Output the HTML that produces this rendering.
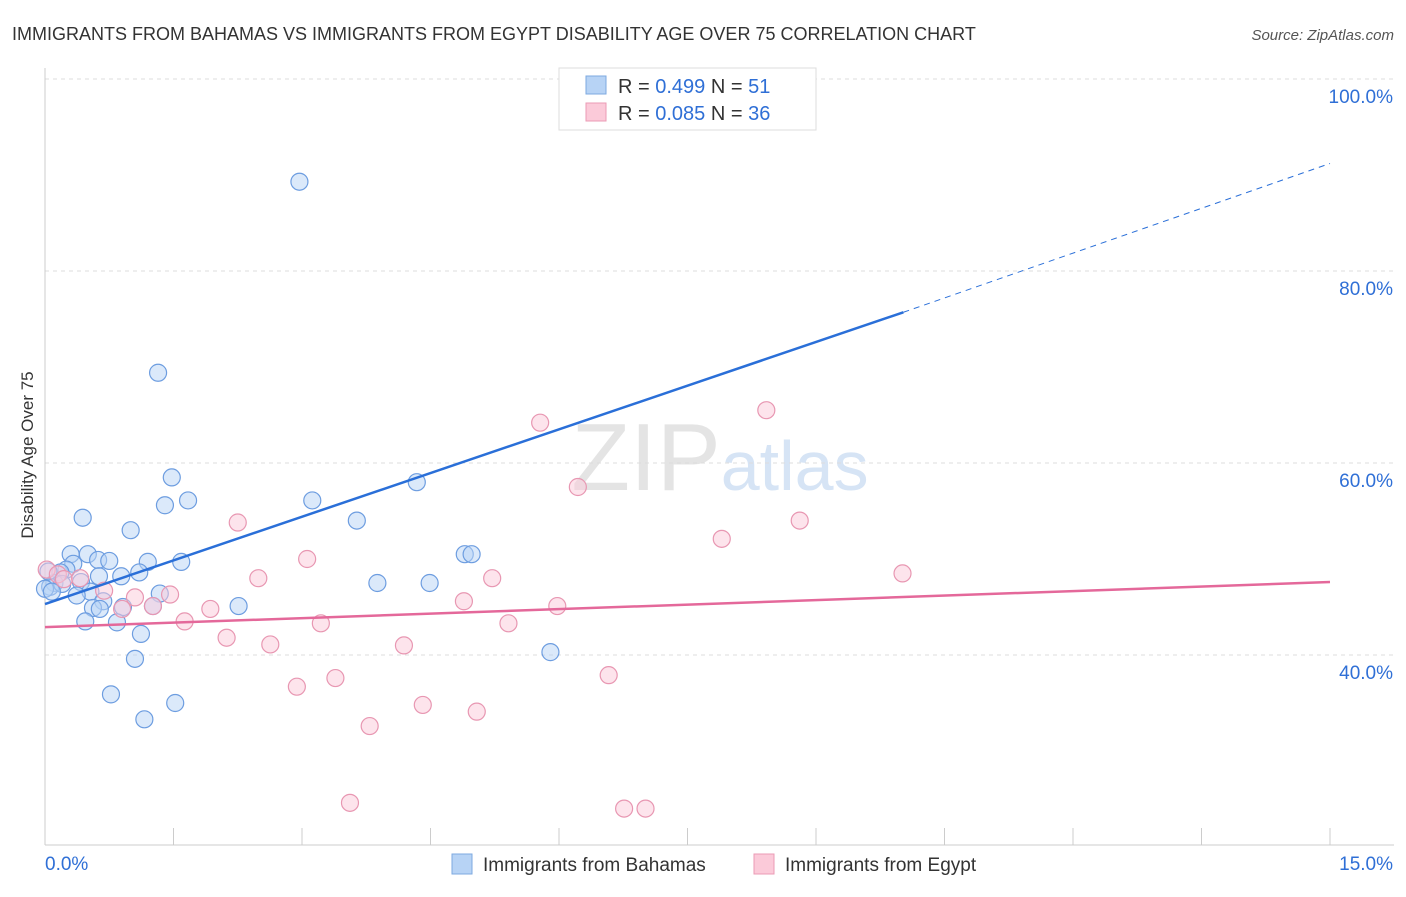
<!DOCTYPE html>
<html><head><meta charset="utf-8"><style>
body{margin:0;background:#fff;font-family:"Liberation Sans",sans-serif;}
svg text{font-family:"Liberation Sans",sans-serif;}
</style></head><body>
<svg id="chart" width="1406" height="892" xmlns="http://www.w3.org/2000/svg">
<text x="12" y="40" font-size="18" fill="#333">IMMIGRANTS FROM BAHAMAS VS IMMIGRANTS FROM EGYPT DISABILITY AGE OVER 75 CORRELATION CHART</text>
<text x="1394" y="40" font-size="15" fill="#555" text-anchor="end" font-style="italic">Source: ZipAtlas.com</text>
<text x="720" y="490" font-size="96" fill="#e4e4e4" text-anchor="middle" font-family="Liberation Serif">ZIP<tspan fill="#d6e4f5" font-family="Liberation Sans" font-size="70">atlas</tspan></text>
<g id="grid"></g>
<g id="axes"></g>
<g id="pts"></g>
<g id="lines"></g>
<text transform="translate(33,455) rotate(-90)" font-size="17" fill="#333" text-anchor="middle">Disability Age Over 75</text>
<g>
<rect x="559" y="68" width="257" height="62" fill="#fff" stroke="#ddd"/>
<rect x="586" y="76" width="20" height="18" fill="#b7d3f5" stroke="#7ea9e0"/>
<rect x="586" y="103" width="20" height="18" fill="#fbcad9" stroke="#eb9bb5"/>
<text x="618" y="93" font-size="20" fill="#333">R = <tspan fill="#2f6fd6">0.499</tspan>   N = <tspan fill="#2f6fd6">51</tspan></text>
<text x="618" y="120" font-size="20" fill="#333">R = <tspan fill="#2f6fd6">0.085</tspan>   N = <tspan fill="#2f6fd6">36</tspan></text>
</g>
<g>
<rect x="452" y="854" width="20" height="20" fill="#b7d3f5" stroke="#7ea9e0"/>
<text x="483" y="871" font-size="19" fill="#333">Immigrants from Bahamas</text>
<rect x="754" y="854" width="20" height="20" fill="#fbcad9" stroke="#eb9bb5"/>
<text x="785" y="871" font-size="19" fill="#333">Immigrants from Egypt</text>
</g>
</svg>
<script>
const yTicks=[40,60,80,100];
const xTickLabels=["0.0%","15.0%"];
const bahamasX=[2.97,8.85,1.32,1.48,1.4,1.67,3.12,4.34,0.44,1.0,3.64,0.3,0.5,0.62,0.75,1.2,1.59,0.33,4.9,4.98,0.25,0.18,0.89,0.63,1.1,0.42,0.11,0.06,0.2,0.0,0.08,0.53,0.37,1.34,0.68,0.91,1.26,2.26,0.56,0.64,0.47,0.84,1.12,3.88,4.49,5.9,1.05,0.77,1.52,1.16,0.04];
const bahamasY=[89.3,100.0,69.4,58.5,55.6,56.1,56.1,58.0,54.3,53.0,54.0,50.5,50.5,49.9,49.8,49.7,49.7,49.5,50.5,50.5,48.9,48.6,48.2,48.2,48.6,47.6,47.5,47.1,47.4,46.9,46.6,46.6,46.2,46.4,45.6,45.0,45.1,45.1,44.9,44.8,43.5,43.4,42.2,47.5,47.5,40.3,39.6,35.9,35.0,33.3,48.7];
const egyptX=[0.02,0.15,0.22,0.41,0.69,1.05,1.46,0.9,1.26,1.63,1.93,2.25,2.49,2.12,2.63,3.06,2.94,3.22,3.39,3.56,3.79,4.19,4.41,4.89,5.22,5.04,5.41,5.78,6.22,5.98,6.58,6.76,7.01,7.9,8.42,8.81,10.01];
const egyptY=[48.9,48.4,47.9,48.0,46.7,46.0,46.3,44.8,45.1,43.5,44.8,53.8,48.0,41.8,41.1,50.0,36.7,43.3,37.6,24.6,32.6,41.0,34.8,45.6,48.0,34.1,43.3,64.2,57.5,45.1,37.9,24.0,24.0,52.1,65.5,54.0,48.5];
const bahamasLine=[[0,45.3],[10.02,75.7]];
const bahamasDash=[[10.02,75.7],[15,91.2]];
const egyptLine=[[0,42.9],[15,47.6]];
const xs=v=>45+v/15*1285, ys=v=>655-(v-40)*9.6;
const NS="http://www.w3.org/2000/svg";
function mk(t,a,p){const e=document.createElementNS(NS,t);for(const k in a)e.setAttribute(k,a[k]);p.appendChild(e);return e;}
const grid=document.getElementById('grid'),axes=document.getElementById('axes');
yTicks.forEach(t=>{
 const l=mk('line',{x1:45,x2:1394,y1:ys(t),y2:ys(t),stroke:'#ddd','stroke-dasharray':'4,4'},grid);
 
 
 const tx=mk('text',{x:1393,y:ys(t)+24,'font-size':19,fill:'#2f6fd6','text-anchor':'end'},axes);
 tx.textContent=t.toFixed(1)+'%';
 
 
});
const ax=mk('line',{x1:45,x2:1394,y1:845,y2:845,stroke:'#ccc'},axes);


const ay=mk('line',{x1:45,x2:45,y1:68,y2:845,stroke:'#ccc'},axes);


for(let i=0;i<=10;i++){const t=mk('line',{x1:xs(i*1.5),x2:xs(i*1.5),y1:828,y2:845,stroke:'#ccc'},axes);
 
 }
[[0,'start',45],[15,'end',1393]].forEach((d,i)=>{const t=mk('text',{x:d[2],y:870,'font-size':19,fill:'#2f6fd6','text-anchor':d[1]},axes);t.textContent=xTickLabels[i];
 
 });
const pts=document.getElementById('pts');
function dots(X,Y,f,s,n){X.forEach((x,i)=>{const c=mk('circle',{cx:xs(x),cy:ys(Y[i]),r:8.5,fill:f,'fill-opacity':0.5,stroke:s,'stroke-width':1.2},pts);
 
 });}
dots(bahamasX,bahamasY,'#b7d3f5','#6d9de0','point-bahamas');
dots(egyptX,egyptY,'#fbcad9','#e897b2','point-egypt');
const lg=document.getElementById('lines');
function ln(p,c,w,d,n){const l=mk('line',{x1:xs(p[0][0]),y1:ys(p[0][1]),x2:xs(p[1][0]),y2:ys(p[1][1]),stroke:c,'stroke-width':w},lg);if(d)l.setAttribute('stroke-dasharray',d);
 
 }
ln(bahamasLine,'#2a6fd8',2.5,null,'trend-bahamas');
ln(bahamasDash,'#2a6fd8',1,'6,5','trend-bahamas-extrapolated');
ln(egyptLine,'#e4689a',2.5,null,'trend-egypt');
</script>
</body></html>
